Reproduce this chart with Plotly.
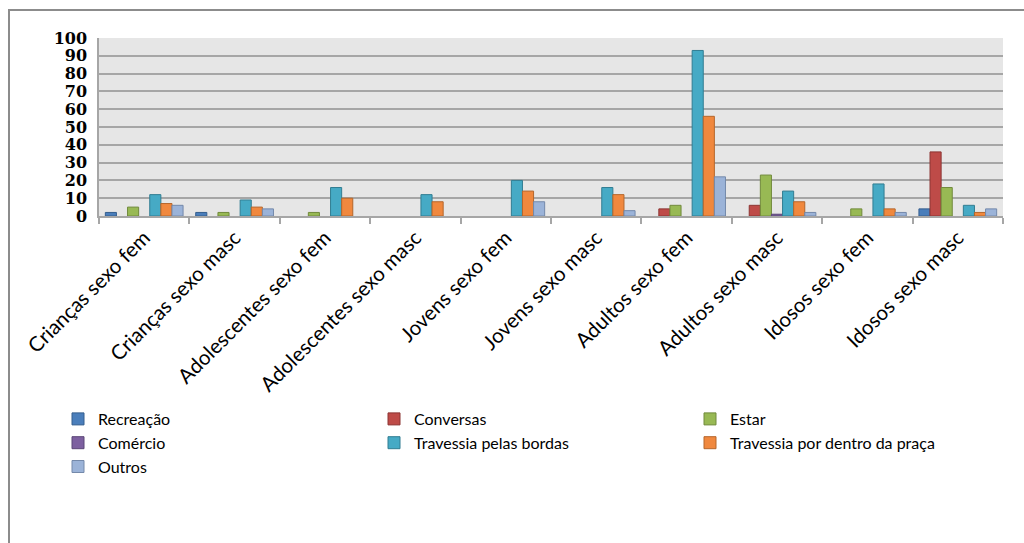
import plotly.graph_objects as go

# Categories (age group / sex)
categorias = [
    "Crianças sexo fem", "Crianças sexo masc",
    "Adolescentes sexo fem", "Adolescentes sexo masc",
    "Jovens sexo fem", "Jovens sexo masc",
    "Adultos sexo fem", "Adultos sexo masc",
    "Idosos sexo fem", "Idosos sexo masc",
]

# Values per activity (None = no observation)
recreacao = [2, 2, None, None, None, None, None, None, None, 4]
conversas = [None, None, None, None, None, None, 4, 6, None, 36]
estar = [5, 2, 2, None, None, None, 6, 23, 4, 16]
comercio = [None, None, None, None, None, None, None, 1, None, None]
travessia_bordas = [12, 9, 16, 12, 20, 16, 93, 14, 18, 6]
travessia_dentro = [7, 5, 10, 8, 14, 12, 56, 8, 4, 2]
outros = [6, 4, None, None, 8, 3, 22, 2, 2, 4]

yticks = [0, 10, 20, 30, 40, 50, 60, 70, 80, 90, 100]

series = [
    ("Recreação", recreacao, "#4A7EBB", "#355E8E"),
    ("Conversas", conversas, "#BE4B48", "#8C3533"),
    ("Estar", estar, "#98B954", "#718A3C"),
    ("Comércio", comercio, "#7D60A0", "#5B4677"),
    ("Travessia pelas bordas", travessia_bordas, "#46AAC5", "#317D92"),
    ("Travessia por dentro da praça", travessia_dentro, "#F0883E", "#B5662B"),
    ("Outros", outros, "#9BB3D8", "#7489AA"),
]

fig = go.Figure()
for nome, vals, cor, borda in series:
    fig.add_trace(go.Bar(
        x=categorias, y=vals, name=nome,
        marker=dict(color=cor, line=dict(color=borda, width=1)),
    ))

W, H = 1024, 543
L, R, T, B = 99, 21, 38, 327
pw, ph = W - L - R, H - T - B


def px_x(p):
    return (p - L) / pw


def px_y(p):
    return (H - B - p) / ph


fig.update_layout(
    width=W, height=H,
    margin=dict(l=L, r=R, t=T, b=B),
    paper_bgcolor="white",
    plot_bgcolor="#E6E6E6",
    barmode="group",
    bargap=0.14,
    bargroupgap=0,
    font=dict(family="Lato, Open Sans, sans-serif", color="black"),
    showlegend=True,
    legend=dict(
        orientation="h",
        x=px_x(58), xanchor="left",
        y=px_y(402), yanchor="top",
        entrywidth=271,
        traceorder="normal",
        font=dict(size=16, family="Lato, Open Sans, sans-serif"),
        itemwidth=30,
        bgcolor="rgba(0,0,0,0)",
    ),
    xaxis=dict(
        type="category",
        tickangle=-45,
        tickfont=dict(size=20.5, family="Lato, Open Sans, sans-serif"),
        showline=True, linecolor="#A6A6A6", linewidth=1.5,
        ticks="outside", tickson="boundaries", ticklen=6,
        tickcolor="#A6A6A6", tickwidth=1.5,
        showgrid=False,
    ),
    yaxis=dict(
        range=[0, 100],
        tickvals=yticks,
        ticktext=[str(v) for v in yticks],
        tickfont=dict(size=16, family="DejaVu Serif, serif", weight="bold"),
        showline=True, linecolor="#A6A6A6", linewidth=1.5,
        showgrid=True, gridcolor="#A6A6A6", gridwidth=2,
        zeroline=False,
        ticks="", ticklabelstandoff=7,
    ),
    shapes=[dict(
        type="rect", xref="paper", yref="paper",
        x0=px_x(9), x1=px_x(1040), y0=px_y(10), y1=px_y(560),
        line=dict(color="#8C8C8C", width=2), layer="below",
    )],
)

fig.write_html("out.html")
